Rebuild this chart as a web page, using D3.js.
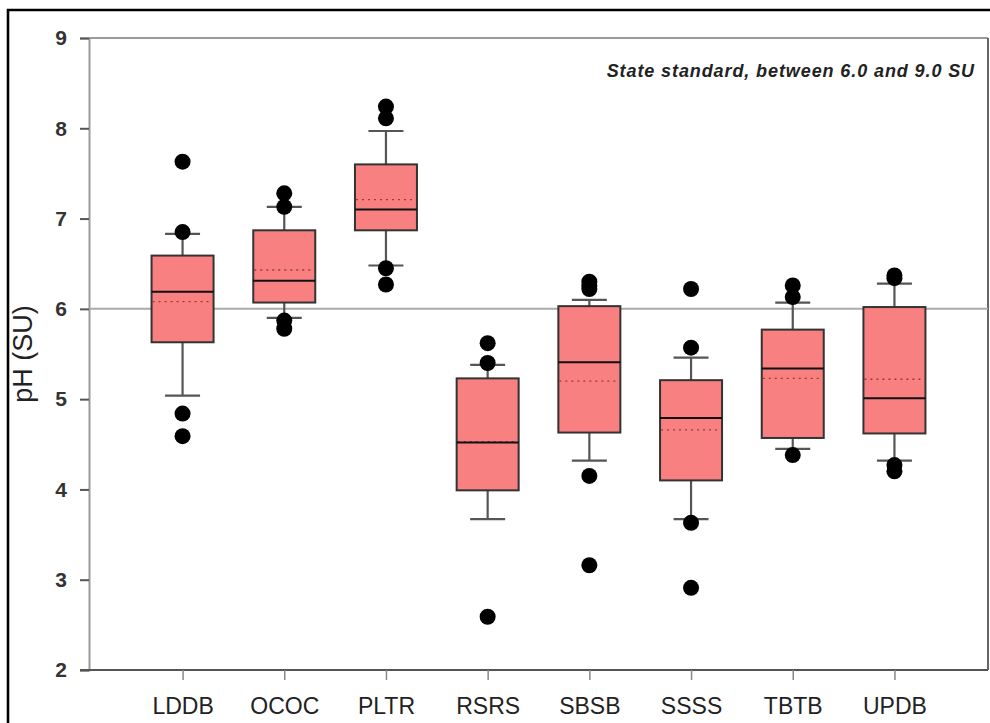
<!DOCTYPE html>
<html>
<head>
<meta charset="utf-8">
<script src="https://cdn.jsdelivr.net/npm/d3@7"></script>
<style>
  html, body { margin: 0; padding: 0; background: #fff; }
  svg { display: block; font-family: "Liberation Sans", Arial, sans-serif; }
</style>
</head>
<body>
<svg id="chart" width="990" height="723"></svg>
<script>
// Sampling sites
const categories = ["LDDB", "OCOC", "PLTR", "RSRS", "SBSB", "SSSS", "TBTB", "UPDB"];

// Box-plot summary statistics, pH (SU)
const whiskerLow  = [5.04, 5.90, 6.48, 3.67, 4.32, 3.67, 4.45, 4.32];
const q1          = [5.63, 6.07, 6.87, 3.99, 4.63, 4.10, 4.57, 4.62];
const median      = [6.19, 6.31, 7.10, 4.52, 5.41, 4.79, 5.34, 5.01];
const mean        = [6.08, 6.43, 7.21, 4.53, 5.20, 4.66, 5.23, 5.22];
const q3          = [6.59, 6.87, 7.60, 5.23, 6.03, 5.21, 5.77, 6.02];
const whiskerHigh = [6.83, 7.13, 7.97, 5.38, 6.10, 5.46, 6.07, 6.28];
const outliers = [
  [7.63, 6.85, 4.84, 4.59],
  [7.28, 7.13, 5.87, 5.78],
  [8.24, 8.11, 6.45, 6.27],
  [5.62, 5.40, 2.59],
  [6.30, 6.26, 6.22, 4.15, 3.16],
  [6.22, 5.57, 3.63, 2.91],
  [6.26, 6.13, 4.38],
  [6.37, 6.34, 4.27, 4.20]
];

const yTicks = [2, 3, 4, 5, 6, 7, 8, 9];
const standardLow = 6.0;
const note = "State standard, between 6.0 and 9.0 SU";
const yTitle = "pH (SU)";

(function () {
  const svg = d3.select("#chart");
  const W = 990, H = 723;
  const pLeft = 89, pRight = 988, pTop = 38, pBottom = 670;

  const x = d3.scalePoint().domain(categories).range([pLeft, pRight]).padding(0.92);
  const y = d3.scaleLinear().domain([2, 9]).range([pBottom, pTop]);

  const boxW = 62, capW = 35;

  // outer frame
  svg.append("path")
    .attr("d", `M8,${H + 5} L8,10 L${W + 5},10`)
    .attr("fill", "none").attr("stroke", "#000").attr("stroke-width", 2.6);

  // plot frame: top and right edges
  svg.append("line").attr("x1", pLeft).attr("x2", pRight).attr("y1", pTop).attr("y2", pTop)
    .attr("stroke", "#9a9a9a").attr("stroke-width", 2);
  svg.append("line").attr("x1", pRight).attr("x2", pRight).attr("y1", pTop).attr("y2", pBottom)
    .attr("stroke", "#666").attr("stroke-width", 2);

  // y axis
  const yAxis = svg.append("g").attr("transform", `translate(${pLeft},0)`)
    .call(d3.axisLeft(y).tickValues(yTicks).tickSize(9).tickPadding(13).tickFormat(d3.format("d")));
  yAxis.select(".domain").attr("stroke", "#9a9a9a").attr("stroke-width", 2);
  yAxis.selectAll(".tick line").attr("stroke", "#555").attr("stroke-width", 2);
  yAxis.selectAll(".tick text").attr("font-size", 21).attr("fill", "#333")
    .attr("font-family", "Liberation Sans, Arial, sans-serif").attr("font-weight", "bold");

  // x axis
  const xAxis = svg.append("g").attr("transform", `translate(0,${pBottom})`)
    .call(d3.axisBottom(x).tickSize(10).tickPadding(18));
  xAxis.select(".domain").attr("d", `M${pLeft - 9},0H${pRight}`).attr("stroke", "#555").attr("stroke-width", 2.2);
  xAxis.selectAll(".tick line").attr("stroke", "#888").attr("stroke-width", 1.5);
  xAxis.selectAll(".tick text").attr("font-size", 23).attr("fill", "#222")
    .attr("font-family", "Liberation Sans, Arial, sans-serif");

  // state standard reference line
  svg.append("line")
    .attr("x1", pLeft).attr("x2", pRight)
    .attr("y1", y(standardLow)).attr("y2", y(standardLow))
    .attr("stroke", "#aaa").attr("stroke-width", 2);

  // boxes
  const boxes = svg.append("g").selectAll("g").data(categories).join("g")
    .attr("transform", d => `translate(${x(d)},0)`);

  boxes.append("line")
    .attr("x1", 0).attr("x2", 0)
    .attr("y1", (d, i) => y(whiskerHigh[i])).attr("y2", (d, i) => y(whiskerLow[i]))
    .attr("stroke", "#555").attr("stroke-width", 2.2);
  boxes.append("line")
    .attr("x1", -capW / 2).attr("x2", capW / 2)
    .attr("y1", (d, i) => y(whiskerHigh[i])).attr("y2", (d, i) => y(whiskerHigh[i]))
    .attr("stroke", "#555").attr("stroke-width", 2.2);
  boxes.append("line")
    .attr("x1", -capW / 2).attr("x2", capW / 2)
    .attr("y1", (d, i) => y(whiskerLow[i])).attr("y2", (d, i) => y(whiskerLow[i]))
    .attr("stroke", "#555").attr("stroke-width", 2.2);

  boxes.append("rect")
    .attr("x", -boxW / 2).attr("width", boxW)
    .attr("y", (d, i) => y(q3[i])).attr("height", (d, i) => y(q1[i]) - y(q3[i]))
    .attr("fill", "#f88080").attr("stroke", "#333").attr("stroke-width", 2);

  boxes.append("line")
    .attr("x1", -boxW / 2 + 1).attr("x2", boxW / 2 - 1)
    .attr("y1", (d, i) => y(mean[i])).attr("y2", (d, i) => y(mean[i]))
    .attr("stroke", "#9a3a3a").attr("stroke-width", 1.4).attr("stroke-dasharray", "2,4");

  boxes.append("line")
    .attr("x1", -boxW / 2).attr("x2", boxW / 2)
    .attr("y1", (d, i) => y(median[i])).attr("y2", (d, i) => y(median[i]))
    .attr("stroke", "#111").attr("stroke-width", 2);

  boxes.each(function (d, i) {
    d3.select(this).selectAll("circle").data(outliers[i]).join("circle")
      .attr("cx", 0).attr("cy", v => y(v)).attr("r", 8).attr("fill", "#000");
  });

  // annotation
  svg.append("text")
    .attr("x", 975).attr("y", 77).attr("text-anchor", "end")
    .attr("font-size", 18).attr("letter-spacing", 0.9)
    .attr("font-style", "italic").attr("font-weight", "bold")
    .attr("fill", "#222").text(note);

  // y axis title
  svg.append("text")
    .attr("transform", `translate(32,${(pTop + pBottom) / 2}) rotate(-90)`)
    .attr("text-anchor", "middle")
    .attr("font-size", 27).attr("fill", "#222").text(yTitle);
})();
</script>
</body>
</html>
